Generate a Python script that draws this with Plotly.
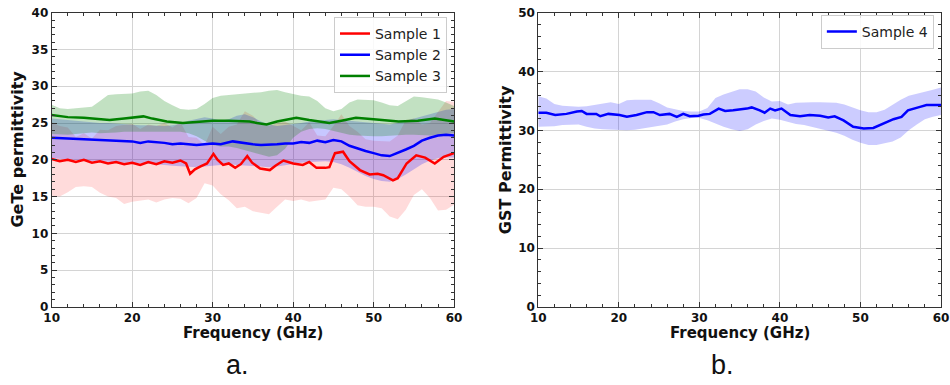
import plotly.graph_objects as go

# ---------------- Panel a: GeTe ----------------
red_f = [10, 11, 12, 13, 14, 15, 16, 17, 18, 19, 20, 21, 22, 23, 24, 25, 26, 26.7, 27.2, 27.8,
         28.5, 29.3, 30.1, 30.6, 31.3, 32, 32.8, 33.5, 34.3, 34.9, 35.9, 37.1, 37.8, 38.8, 40,
         41.2, 42, 42.9, 44, 44.5, 45.2, 46.2, 47, 48.3, 49.5, 50.5, 51.2, 52.4, 53, 54.1, 55.3,
         56.4, 57.6, 58.7, 60]
red_mean = [20.1, 19.8, 20.0, 19.7, 20.0, 19.6, 19.8, 19.5, 19.7, 19.4, 19.6, 19.3, 19.7, 19.4,
            19.8, 19.6, 19.9, 19.5, 18.1, 18.7, 19.1, 19.5, 20.8, 20.0, 19.3, 19.5, 18.9, 19.4,
            20.5, 19.6, 18.8, 18.6, 19.2, 19.9, 19.5, 19.3, 19.7, 18.9, 18.9, 19.0, 20.9, 21.1,
            19.8, 18.6, 18.0, 18.1, 17.9, 17.2, 17.5, 19.5, 20.6, 20.3, 19.5, 20.4, 20.9]

blue_f = [10, 12, 14, 16, 18, 20, 21, 22, 24, 25, 26, 28, 30, 31, 32.5, 34, 35, 36, 37, 38, 39,
          40, 41, 42, 43, 44, 45, 46, 47, 48, 49, 50, 51, 52, 53, 54, 55, 56, 57, 58, 59, 60]
blue_mean = [23.0, 22.9, 22.8, 22.6, 22.6, 22.5, 22.3, 22.5, 22.3, 22.1, 22.2, 22.0, 22.2, 22.1,
             22.5, 22.2, 22.1, 22.0, 22.0, 22.1, 22.2, 22.2, 22.4, 22.3, 22.6, 22.4, 22.7, 22.5,
             21.9, 21.5, 21.2, 20.9, 20.6, 20.5, 20.9, 21.4, 21.9, 22.6, 23.0, 23.3, 23.4, 23.3]

green_f = [10, 12, 14, 16, 17.2, 19, 21.4, 22.5, 24.3, 26.3, 28, 30, 32, 34.6, 35.5, 36.7, 38,
           40.4, 42, 44.5, 46, 47.8, 50, 53.1, 55.5, 57.6, 60]
green_mean = [26.1, 25.8, 25.7, 25.5, 25.4, 25.6, 25.9, 25.6, 25.2, 25.0, 25.1, 25.3, 25.3,
              25.2, 25.0, 24.8, 25.2, 25.7, 25.4, 25.0, 25.3, 25.7, 25.5, 25.2, 25.3, 25.6, 25.2]

band_f = [10, 11, 12, 13, 14, 15, 16, 17, 18, 19, 20, 21, 22, 23, 24, 25, 26, 27, 28, 29, 30,
          31, 32, 33, 34, 35, 36, 37, 38, 39, 40, 41, 42, 43, 44, 45, 46, 47, 48, 49, 50, 51,
          52, 53, 54, 55, 56, 57, 58, 59, 60]
red_lo = [15.1, 15.0, 15.6, 16.3, 16.4, 16.3, 15.5, 15.0, 14.8, 14.0, 14.3, 14.4, 14.6, 14.2,
          14.6, 14.8, 14.7, 14.1, 14.8, 16.8, 16.5, 15.3, 14.5, 13.4, 13.6, 13.0, 12.8, 12.6,
          13.6, 14.6, 14.4, 14.6, 14.3, 14.5, 14.6, 16.2, 16.0, 15.0, 13.8, 13.6, 13.6, 13.4,
          12.3, 11.9, 13.2, 15.2, 16.0, 14.8, 13.1, 13.2, 13.9]
red_hi = [25.1, 24.6, 24.4, 23.1, 23.6, 22.9, 24.1, 24.0, 24.6, 24.8, 24.9, 24.2, 24.8, 24.6,
          25.0, 24.4, 25.1, 23.1, 23.0, 22.0, 24.5, 23.5, 24.5, 24.8, 26.6, 26.0, 24.8, 24.6,
          25.0, 25.2, 24.6, 24.0, 25.1, 23.3, 23.2, 24.6, 26.2, 24.6, 23.8, 22.8, 22.6, 22.6,
          22.5, 23.3, 25.4, 25.6, 24.8, 25.0, 26.5, 28.0, 27.9]
blue_lo = [20.2, 20.1, 20.0, 19.9, 19.9, 19.8, 19.8, 19.7, 19.7, 19.6, 19.6, 19.5, 19.5, 19.4,
           19.3, 19.2, 19.1, 19.0, 19.0, 19.1, 19.2, 19.3, 19.4, 19.3, 19.2, 19.1, 19.0, 19.0,
           19.1, 19.3, 19.5, 19.6, 19.7, 19.8, 19.8, 19.7, 19.4, 18.9, 18.3, 17.8, 17.4, 17.1,
           17.0, 17.4, 18.0, 18.7, 19.4, 19.9, 20.2, 20.3, 20.3]
blue_hi = [25.6, 25.5, 25.4, 25.3, 25.2, 25.1, 25.0, 25.0, 24.9, 24.9, 24.8, 24.7, 24.7, 24.6,
           24.6, 24.7, 24.9, 25.3, 25.6, 25.8, 25.6, 25.3, 25.5, 26.0, 26.2, 25.8, 25.2, 24.8,
           24.6, 24.7, 24.8, 25.0, 25.2, 25.3, 25.4, 25.5, 25.4, 25.3, 25.2, 25.1, 25.0, 24.9,
           24.8, 25.0, 25.3, 25.7, 26.0, 26.3, 26.6, 26.8, 26.9]
green_lo = [23.5, 23.4, 23.4, 23.5, 23.6, 23.7, 23.6, 23.6, 23.7, 23.8, 23.8, 23.9, 23.9, 23.9,
            23.9, 23.8, 23.8, 23.6, 23.2, 22.6, 22.0, 21.8, 21.8, 21.6, 21.3, 20.9, 20.6, 20.4,
            20.6, 21.5, 23.0, 23.8, 24.2, 24.3, 24.2, 23.9, 23.6, 23.4, 23.3, 23.2, 23.2, 23.2,
            23.3, 23.4, 23.4, 23.4, 23.3, 23.3, 23.4, 23.5, 23.6]
green_hi = [27.5, 27.0, 26.9, 27.0, 27.1, 27.2, 28.0, 28.8, 28.9, 28.9, 29.0, 29.3, 29.4, 28.8,
            28.0, 27.4, 26.9, 26.8, 26.9, 27.6, 28.4, 28.7, 28.8, 28.9, 29.0, 29.1, 29.2, 29.4,
            29.5, 29.2, 28.9, 28.7, 28.6, 28.0, 27.0, 26.6, 26.9, 27.8, 28.2, 28.2, 28.1, 27.8,
            27.4, 27.3, 27.9, 28.6, 28.5, 28.3, 28.2, 27.8, 27.3]

# ---------------- Panel b: GST ----------------
gst_f = [10, 11, 12.1, 13.5, 14.8, 15.4, 16, 17.2, 17.7, 18.7, 20.1, 21, 22.2, 23.5, 24.3, 25.1,
         26.3, 27.2, 28, 28.8, 29.9, 30.5, 31.3, 32.4, 33.2, 34.2, 35.9, 36.5, 37.5, 38.1, 38.8,
         39.4, 40.2, 41.3, 42.5, 43.7, 45, 46, 46.8, 47.9, 49.1, 50.4, 51.6, 52.8, 54.1, 55.1,
         55.9, 57.4, 58.2, 60]
gst_mean = [33.0, 33.0, 32.6, 32.8, 33.2, 33.3, 32.8, 32.8, 32.4, 32.8, 32.6, 32.3, 32.6, 33.1,
            33.1, 32.6, 32.8, 32.3, 32.8, 32.4, 32.5, 32.7, 32.8, 33.7, 33.3, 33.4, 33.7, 33.9,
            33.4, 33.0, 33.7, 33.4, 33.7, 32.6, 32.4, 32.6, 32.5, 32.2, 32.4, 31.7, 30.6, 30.3,
            30.4, 31.1, 31.9, 32.3, 33.4, 34.0, 34.3, 34.3]
gst_band_f = band_f
gst_lo = [30.6, 30.6, 30.7, 30.9, 31.0, 31.0, 30.6, 30.3, 30.2, 30.1, 30.1, 30.0, 30.1, 30.3,
          30.6, 30.8, 31.0, 31.5, 31.9, 32.1, 32.1, 31.7, 31.1, 30.6, 30.2, 29.9, 30.2, 31.0,
          31.6, 32.0, 31.8, 31.4, 31.1, 30.9, 30.6, 30.3, 30.0, 29.6, 29.1, 28.4, 27.9, 27.5,
          27.5, 27.8, 28.1, 28.8, 30.0, 31.0, 31.9, 32.3, 32.6]
gst_hi = [35.8, 35.4, 34.5, 34.2, 34.1, 34.0, 34.1, 34.3, 34.6, 34.8, 34.5, 35.1, 35.2, 35.2,
          35.2, 34.6, 33.9, 33.6, 33.3, 33.2, 33.2, 33.8, 35.5, 36.1, 36.6, 37.0, 37.0, 36.6,
          35.6, 34.9, 35.0, 34.4, 34.7, 34.8, 34.8, 34.8, 34.8, 34.7, 34.4, 33.9, 33.4, 33.1,
          33.1, 33.5, 34.4, 35.2, 35.9, 36.2, 36.6, 36.9, 37.3]

fig = go.Figure()


def add_band(x, lo, hi, color, xa, ya):
    fig.add_trace(go.Scatter(x=x, y=lo, mode="lines", line=dict(width=0), showlegend=False,
                             hoverinfo="skip", xaxis=xa, yaxis=ya))
    fig.add_trace(go.Scatter(x=x, y=hi, mode="lines", line=dict(width=0), fill="tonexty",
                             fillcolor=color, showlegend=False, hoverinfo="skip",
                             xaxis=xa, yaxis=ya))


add_band(band_f, red_lo, red_hi, "rgba(255,0,0,0.14)", "x", "y")
add_band(band_f, blue_lo, blue_hi, "rgba(0,0,255,0.22)", "x", "y")
add_band(band_f, green_lo, green_hi, "rgba(0,128,0,0.24)", "x", "y")
add_band(gst_band_f, gst_lo, gst_hi, "rgba(0,0,255,0.2)", "x2", "y2")

fig.add_trace(go.Scatter(x=red_f, y=red_mean, mode="lines", name="Sample 1",
                         line=dict(color="#ff0000", width=2.5), xaxis="x", yaxis="y",
                         legend="legend"))
fig.add_trace(go.Scatter(x=blue_f, y=blue_mean, mode="lines", name="Sample 2",
                         line=dict(color="#0000ff", width=2.5), xaxis="x", yaxis="y",
                         legend="legend"))
fig.add_trace(go.Scatter(x=green_f, y=green_mean, mode="lines", name="Sample 3",
                         line=dict(color="#008000", width=2.5), xaxis="x", yaxis="y",
                         legend="legend"))
fig.add_trace(go.Scatter(x=gst_f, y=gst_mean, mode="lines", name="Sample 4",
                         line=dict(color="#0000ff", width=2.5), xaxis="x2", yaxis="y2",
                         legend="legend2"))

tick_font = dict(family="DejaVu Sans", size=12, color="#111", weight="bold")
common_axis = dict(showline=True, linecolor="#333", linewidth=1, mirror="allticks",
                   ticks="inside", ticklen=5, tickwidth=1, tickcolor="#333",
                   showgrid=True, gridcolor="#d4d4d4", gridwidth=1, zeroline=False,
                   tickfont=tick_font, automargin=False)
minor = dict(ticks="inside", ticklen=3, tickcolor="#333", showgrid=False)

ydom = [0.203, 0.967]
fig.update_layout(
    width=950, height=385,
    margin=dict(l=0, r=0, t=0, b=0, autoexpand=False),
    paper_bgcolor="white", plot_bgcolor="white",
    xaxis=dict(domain=[0.0544, 0.478], range=[10, 60], dtick=10, anchor="y",
               minor=dict(dtick=2, **minor), **common_axis),
    yaxis=dict(domain=ydom, range=[0, 40], dtick=5, anchor="x",
               minor=dict(dtick=1, **minor), **common_axis),
    xaxis2=dict(domain=[0.5666, 0.9905], range=[10, 60], dtick=10, anchor="y2",
                minor=dict(dtick=2, **minor), **common_axis),
    yaxis2=dict(domain=ydom, range=[0, 50], dtick=10, anchor="x2",
                minor=dict(dtick=2, **minor), **common_axis),
    legend=dict(x=0.4705, y=0.956, xanchor="right", yanchor="top", traceorder="normal",
                font=dict(family="DejaVu Sans", size=14, color="#222"),
                bgcolor="rgba(255,255,255,0.85)", bordercolor="#cccccc", borderwidth=1,
                itemwidth=30),
    legend2=dict(x=0.983, y=0.961, xanchor="right", yanchor="top", traceorder="normal",
                 font=dict(family="DejaVu Sans", size=14, color="#222"),
                 bgcolor="rgba(255,255,255,0.85)", bordercolor="#cccccc", borderwidth=1,
                 itemwidth=30),
    showlegend=True,
)

title_font = dict(family="DejaVu Sans", size=15, color="#111", weight="bold")
fig.add_annotation(text="Frequency (GHz)", xref="paper", yref="paper", x=0.2662, y=0.135,
                   xanchor="center", yanchor="middle", showarrow=False, font=title_font)
fig.add_annotation(text="Frequency (GHz)", xref="paper", yref="paper", x=0.7786, y=0.135,
                   xanchor="center", yanchor="middle", showarrow=False, font=title_font)
fig.add_annotation(text="GeTe permittivity", xref="paper", yref="paper", x=0.0189, y=0.614,
                   xanchor="center", yanchor="middle", textangle=-90, showarrow=False,
                   font=dict(family="DejaVu Sans", size=16, color="#111", weight="bold"))
fig.add_annotation(text="GST Permittivity", xref="paper", yref="paper", x=0.5316, y=0.584,
                   xanchor="center", yanchor="middle", textangle=-90, showarrow=False,
                   font=dict(family="DejaVu Sans", size=16, color="#111", weight="bold"))
fig.add_annotation(text="a.", xref="paper", yref="paper", x=0.2495, y=0.052,
                   xanchor="center", yanchor="middle", showarrow=False,
                   font=dict(family="Liberation Sans", size=27, color="#111"))
fig.add_annotation(text="b.", xref="paper", yref="paper", x=0.760, y=0.052,
                   xanchor="center", yanchor="middle", showarrow=False,
                   font=dict(family="Liberation Sans", size=27, color="#111"))

fig.write_html("out.html", config={"displayModeBar": False},
               post_script="document.body.style.margin='0px';document.body.style.overflow='hidden';")
